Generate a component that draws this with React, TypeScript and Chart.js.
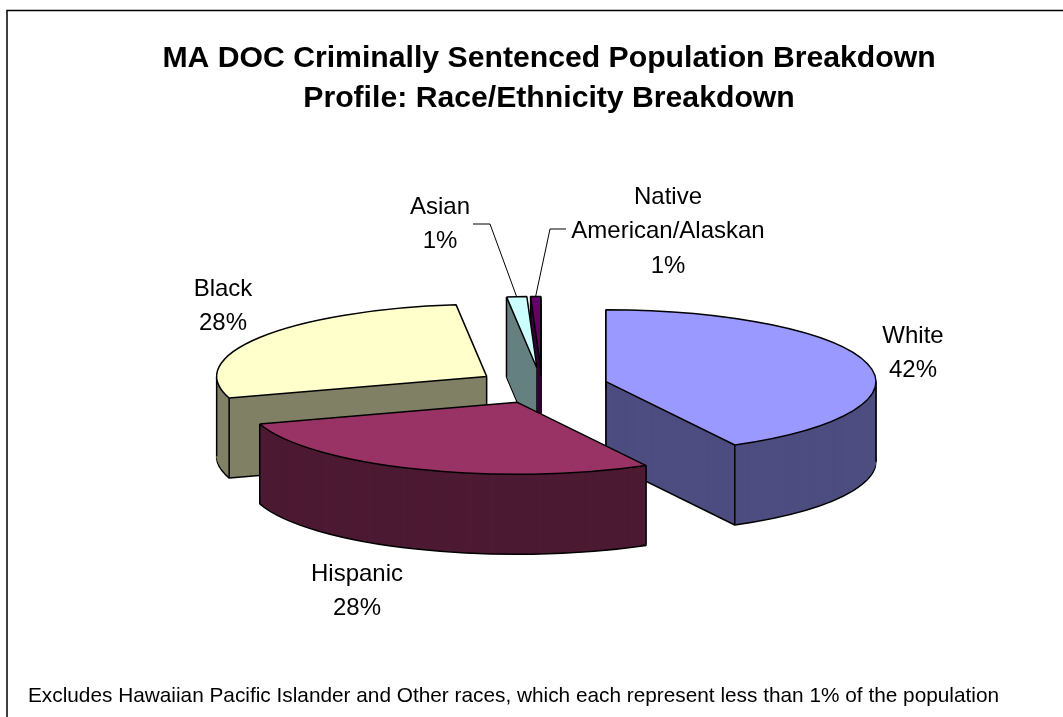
import React, { useEffect, useRef } from "react";
import { Chart, registerables } from "chart.js";

Chart.register(...registerables);

// ---- data ----
const categories = ["White", "Hispanic", "Black", "Asian", "Native American/Alaskan"];
const sliceValues = [42, 28, 28, 1.2, 0.6];
const percentLabels = ["42%", "28%", "28%", "1%", "1%"];
const titleLines = [
  "MA DOC Criminally Sentenced Population Breakdown",
  "Profile: Race/Ethnicity Breakdown",
];
const footnote =
  "Excludes Hawaiian Pacific Islander and Other races, which each represent less than 1% of the population";

// ---- styles / layout ----
const topColors = ["#9999FF", "#993366", "#FFFFCC", "#CCFFFF", "#660066"];
const sideColors = ["#4D4D80", "#4D1A33", "#808066", "#668080", "#330033"];
const explode = [66, 66, 66, 66, 66];
const PIE = { x: 542, y: 386, radius: 270, ratio: 0.2667, depth: 80 };
const LABEL_FONT = '24px "Liberation Sans", Arial, sans-serif';
const LINE_H = 34.5;
const labelPos = [
  { x: 913, y: 336 },
  { x: 357, y: 574 },
  { x: 223, y: 289 },
  { x: 440, y: 207 },
  { x: 668, y: 197 },
];
const leaderElbow: (null | { x0: number; x1: number; y: number })[] = [
  null,
  null,
  null,
  { x0: 473, x1: 490, y: 224 },
  { x0: 566, x1: 550, y: 229 },
];

const TAU = Math.PI * 2;
const norm = (a: number) => ((a % TAU) + TAU) % TAU;
const contains = (s: number, e: number, a: number) => norm(a - s) <= e - s;

function withArc(ctx: any, arc: any, over: any, i: number, dz: number) {
  const saved = arc.options;
  arc.options = Object.assign(Object.create(saved), saved, over);
  const dpr = ctx.canvas.width / (ctx.canvas.clientWidth || ctx.canvas.width);
  const baseStroke = ctx.stroke;
  // keep an even pen: the path is squashed, the stroke is not
  ctx.stroke = function () {
    ctx.save();
    ctx.setTransform(dpr, 0, 0, dpr, 0, 0);
    baseStroke.call(ctx);
    ctx.restore();
  };
  const mid = (arc.startAngle + arc.endAngle) / 2;
  ctx.save();
  ctx.translate(PIE.x, PIE.y + dz);
  ctx.scale(1, PIE.ratio);
  ctx.translate(Math.cos(mid) * explode[i] - arc.x, Math.sin(mid) * explode[i] - arc.y);
  arc.draw(ctx);
  ctx.restore();
  delete ctx.stroke;
  arc.options = saved;
}

function project(arc: any, i: number, angle: number | null) {
  const mid = (arc.startAngle + arc.endAngle) / 2;
  const ox = Math.cos(mid) * explode[i];
  const oy = Math.sin(mid) * explode[i];
  const r = angle === null ? 0 : arc.outerRadius;
  const a = angle === null ? 0 : angle;
  return {
    x: PIE.x + ox + r * Math.cos(a),
    y: PIE.y + (oy + r * Math.sin(a)) * PIE.ratio,
  };
}

const pie3d = {
  id: "pie3d",
  beforeDraw(chart: any) {
    const { ctx, width, height } = chart;
    ctx.save();
    ctx.fillStyle = "#fff";
    ctx.fillRect(0, 0, width, height);
    ctx.strokeStyle = "#000";
    ctx.lineWidth = 1.5;
    ctx.beginPath();
    ctx.moveTo(7, height);
    ctx.lineTo(7, 10.5);
    ctx.lineTo(width, 10.5);
    ctx.stroke();
    ctx.restore();
  },
  beforeDatasetDraw(chart: any, args: any) {
    const { ctx } = chart;
    const arcs: any[] = args.meta.data;
    const order = arcs
      .map((arc, i) => ({ i, arc, depthKey: Math.sin((arc.startAngle + arc.endAngle) / 2) }))
      .sort((a, b) => a.depthKey - b.depthKey);

    for (const { arc, i } of order) {
      // bottom outline, then the wall, from the floor up
      withArc(ctx, arc, { backgroundColor: sideColors[i], borderColor: "#000", borderWidth: 1.5 }, i, PIE.depth);
      for (let z = PIE.depth - 2; z > 0; z--) {
        withArc(ctx, arc, { backgroundColor: sideColors[i], borderColor: sideColors[i], borderWidth: 1 }, i, z);
      }
      // wall edges
      const s = arc.startAngle;
      const e = arc.endAngle;
      const apex = project(arc, i, null);
      const cands: { p: { x: number; y: number }; low: boolean }[] = [
        { p: apex, low: false },
        { p: project(arc, i, s), low: Math.sin(s) > 0 },
        { p: project(arc, i, e), low: Math.sin(e) > 0 },
      ];
      if (contains(s, e, 0)) cands.push({ p: project(arc, i, 0), low: false });
      if (contains(s, e, Math.PI)) cands.push({ p: project(arc, i, Math.PI), low: false });
      const xs = cands.map((c) => c.p.x);
      const minX = Math.min(...xs);
      const maxX = Math.max(...xs);
      ctx.save();
      ctx.strokeStyle = "#000";
      ctx.lineWidth = 1.5;
      for (const c of cands) {
        if (c.low || c.p.x === minX || c.p.x === maxX) {
          ctx.beginPath();
          ctx.moveTo(c.p.x, c.p.y);
          ctx.lineTo(c.p.x, c.p.y + PIE.depth);
          ctx.stroke();
        }
      }
      ctx.restore();
      // top face
      withArc(ctx, arc, { backgroundColor: topColors[i], borderColor: "#000", borderWidth: 1.5 }, i, 0);
    }
    return false;
  },
  afterDraw(chart: any) {
    const { ctx } = chart;
    const arcs: any[] = chart.getDatasetMeta(0).data;
    ctx.save();
    ctx.font = LABEL_FONT;
    ctx.fillStyle = "#000";
    ctx.textAlign = "center";
    ctx.textBaseline = "middle";
    categories.forEach((name, i) => {
      const pos = labelPos[i];
      const lines = [...name.split(" "), percentLabels[i]];
      lines.forEach((ln, k) => ctx.fillText(ln, pos.x, pos.y + k * LINE_H));
      const elbow = leaderElbow[i];
      if (elbow) {
        const arc = arcs[i];
        const tip = project(arc, i, (arc.startAngle + arc.endAngle) / 2);
        ctx.strokeStyle = "#000";
        ctx.lineWidth = 1;
        ctx.beginPath();
        ctx.moveTo(elbow.x0, elbow.y);
        ctx.lineTo(elbow.x1, elbow.y);
        ctx.lineTo(tip.x, tip.y);
        ctx.stroke();
      }
    });
    ctx.textAlign = "left";
    ctx.font = '20.8px "Liberation Sans", Arial, sans-serif';
    ctx.fillText(footnote, 28, 696);
    ctx.restore();
  },
};

export default function App() {
  const ref = useRef<HTMLCanvasElement>(null);
  useEffect(() => {
    document.body.style.margin = "0";
    const chart = new Chart(ref.current as HTMLCanvasElement, {
      type: "pie",
      data: {
        labels: categories,
        datasets: [
          {
            data: sliceValues,
            backgroundColor: topColors,
            borderColor: "#000",
            borderWidth: 1.5,
            radius: PIE.radius,
          } as any,
        ],
      },
      options: {
        responsive: false,
        animation: false,
        events: [],
        layout: { padding: { left: 35, right: 0, top: 0, bottom: 0 } },
        plugins: {
          legend: { display: false },
          tooltip: { enabled: false },
          title: {
            display: true,
            text: titleLines,
            color: "#000",
            font: { family: '"Liberation Sans", Arial, sans-serif', size: 30.2, weight: "bold", lineHeight: 1.325 },
            padding: { top: 39, bottom: 10 },
          },
        },
      },
      plugins: [pie3d],
    } as any);
    return () => chart.destroy();
  }, []);
  return <canvas ref={ref} width={1063} height={717} style={{ display: "block" }} />;
}
